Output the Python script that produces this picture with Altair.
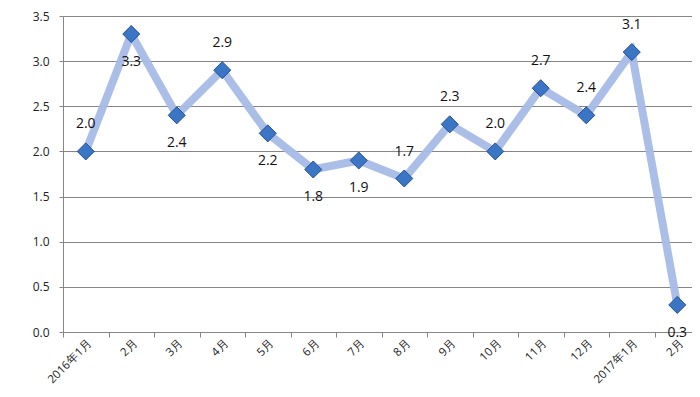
import altair as alt
import pandas as pd

months = ["2016年1月", "2月", "3月", "4月", "5月", "6月", "7月", "8月", "9月",
          "10月", "11月", "12月", "2017年1月", "2月 "]
values = [2.0, 3.3, 2.4, 2.9, 2.2, 1.8, 1.9, 1.7, 2.3, 2.0, 2.7, 2.4, 3.1, 0.3]
label_side = ["above", "below", "below", "above", "below", "below", "below",
              "above", "above", "above", "above", "above", "above", "below"]

df = pd.DataFrame({"month": months, "value": values, "side": label_side})
df["label"] = df["value"].map(lambda v: f"{v:.1f}")

x = alt.X("month:N", sort=months, title=None,
          scale=alt.Scale(paddingInner=0, paddingOuter=0),
          axis=alt.Axis(labelAngle=-45, labelAlign="right", labelBaseline="top",
                        labelFontSize=11.5, labelColor="#222", labelFont="Open Sans",
                        tickBand="extent", tickColor="#868686", tickSize=5,
                        domainColor="#868686", grid=False, labelPadding=0))
y = alt.Y("value:Q", title=None,
          scale=alt.Scale(domain=[0, 3.5], nice=False),
          axis=alt.Axis(values=[0, 0.5, 1, 1.5, 2, 2.5, 3, 3.5], format=".1f",
                        labelFontSize=12, labelColor="#222", labelFont="Open Sans",
                        tickColor="#868686", tickSize=4, domainColor="#868686",
                        gridColor="#868686", gridWidth=1, labelPadding=10))

base = alt.Chart(df)
line = base.mark_line(color="#a6bbe6", strokeWidth=8, opacity=0.95).encode(x=x, y=y)
pts = base.mark_point(shape="diamond", filled=True, size=290, color="#3b76c6",
                      stroke="#24508f", strokeWidth=1, opacity=1).encode(x=x, y=y)
above = base.transform_filter(alt.datum.side == "above").mark_text(
    dy=-27, fontSize=14, font="Open Sans", color="#111").encode(x=x, y=y, text="label:N")
below = base.transform_filter(alt.datum.side == "below").mark_text(
    dy=28, fontSize=14, font="Open Sans", color="#111").encode(x=x, y=y, text="label:N")

chart = (line + pts + above + below).properties(
    width=637, height=316,
    autosize=alt.AutoSizeParams(type="none"),
    padding={"left": 55, "top": 8, "right": -8, "bottom": 57},
).configure_view(stroke=None).configure(background="white")

chart.save("out.html", embed_options={"renderer": "svg", "actions": False})
